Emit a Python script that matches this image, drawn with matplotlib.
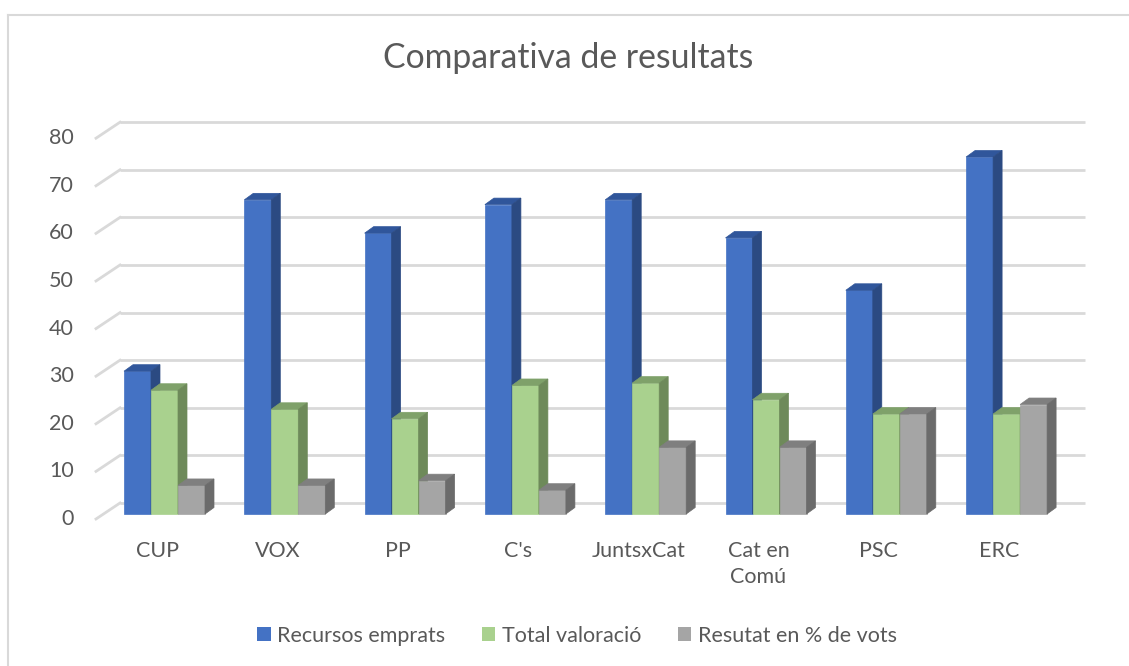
import numpy as np
import matplotlib
matplotlib.use("Agg")
import matplotlib.pyplot as plt
from matplotlib.patches import Polygon, Rectangle
from matplotlib.lines import Line2D

# dades
partits = ["CUP", "VOX", "PP", "C's", "JuntsxCat", "Cat en\nComú", "PSC", "ERC"]
recursos = [30, 66, 59, 65, 66, 58, 47, 75]
valoracio = [26, 22, 20, 27, 27.5, 24, 21, 21]
vots = [6, 6, 7, 5, 14, 14, 21, 23]
series_noms = ["Recursos emprats", "Total valoració", "Resutat en % de vots"]
yticks = [0, 10, 20, 30, 40, 50, 60, 70, 80]

# colors: cara frontal, cara superior, cara lateral
colors = [("#4472C4", "#30569B", "#2B4A82"),
          ("#A9D18E", "#7FA16A", "#6E8A5A"),
          ("#A5A5A5", "#7F7F7F", "#6B6B6B")]
text_color = "#595959"

plt.rcParams['font.family'] = ['Lato', 'DejaVu Sans']

W, H = 1129, 666
fig = plt.figure(figsize=(W / 100, H / 100), dpi=100)
ax = fig.add_axes([0, 0, 1, 1])
ax.axis('off')

# escala: 120.3 px per categoria, 4.76 px per unitat
px_x, px_y = 120.3, 4.76
x0_px, y0_px = 164.5, 514
ax.set_xlim(-x0_px / px_x, (W - x0_px) / px_x)
ax.set_ylim((y0_px - H) / px_y, y0_px / px_y)

# profunditat (en unitats de dades)
front_dy = -5 / px_y
back_dx, back_dy = 24 / px_x, 11 / px_y
front_x = (96 - x0_px) / px_x
back_x0 = front_x + back_dx
back_x1 = (1085 - x0_px) / px_x
bar_dx, bar_dy = 9 / px_x, 6.5 / px_y
bw = 27 / px_x

# graella de la paret del fons
for v in yticks:
    ax.plot([back_x0, back_x1], [v + back_dy, v + back_dy], color="#D9D9D9",
            lw=2, zorder=1, solid_capstyle='butt')
    ax.plot([front_x, back_x0], [v + front_dy, v + back_dy], color="#D9D9D9",
            lw=2, zorder=1)
    ax.text((74 - x0_px) / px_x, v + front_dy, str(v), ha='right', va='center',
            fontsize=15.5, color=text_color)

x = np.arange(len(partits))
for i in range(len(partits)):
    for k, vals in enumerate([recursos, valoracio, vots]):
        front, top, side = colors[k]
        xl = x[i] + (k - 1) * bw - bw / 2
        h = vals[i]
        z = 3 + i * 3 + k
        ax.bar(xl, h, width=bw, align='edge', color=front, zorder=z,
               edgecolor=front, linewidth=0.5)
        ax.add_patch(Polygon([(xl, h), (xl + bw, h), (xl + bw + bar_dx, h + bar_dy),
                              (xl + bar_dx, h + bar_dy)], closed=True,
                             facecolor=top, edgecolor=top, lw=0.5, zorder=z))
        ax.add_patch(Polygon([(xl + bw, 0), (xl + bw + bar_dx, bar_dy),
                              (xl + bw + bar_dx, h + bar_dy), (xl + bw, h)], closed=True,
                             facecolor=side, edgecolor=side, lw=0.5, zorder=z))

# etiquetes de categoria
for i, nom in enumerate(partits):
    ax.text(x[i] + (157 - x0_px) / px_x, (y0_px - 541) / px_y, nom, ha='center',
            va='top', multialignment='center', fontsize=15.5, color=text_color,
            linespacing=1.38)

# títol
fig.text(568 / W, 1 - 68 / H, "Comparativa de resultats", ha='center', va='baseline',
         fontsize=24.3, color=text_color)

# llegenda
handles = [Rectangle((0, 0), 1, 1, facecolor=c[0], edgecolor='none') for c in colors]
fig.legend(handles, series_noms, loc='center', bbox_to_anchor=(577 / W, 1 - 636 / H),
           ncol=3, frameon=False, fontsize=15.5, labelcolor=text_color,
           handlelength=0.62, handleheight=0.62, handletextpad=0.3, columnspacing=1.7)

# vora del gràfic
fig.add_artist(Line2D([8 / W, 8 / W], [0, 1 - 15 / H], color="#D9D9D9", lw=1.5))
fig.add_artist(Line2D([8 / W, 1], [1 - 15 / H, 1 - 15 / H], color="#D9D9D9", lw=1.5))

fig.savefig("out.png", dpi=100)
